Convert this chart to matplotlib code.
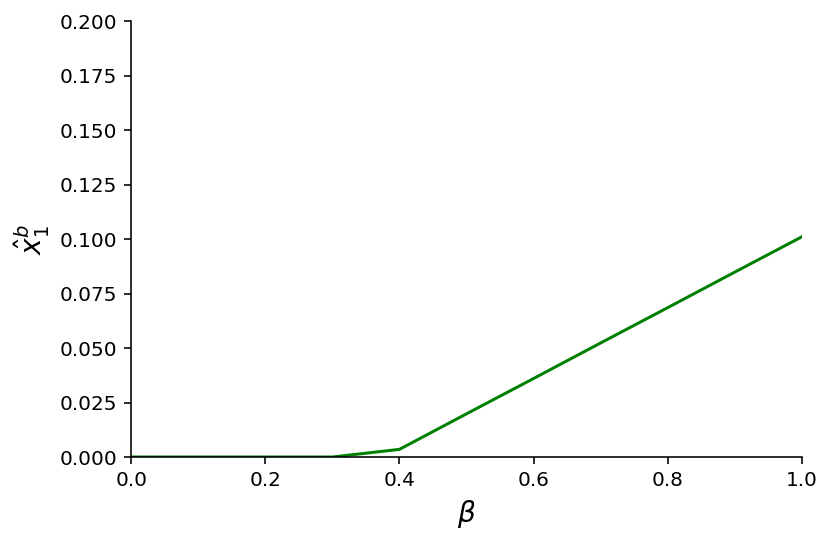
import matplotlib
matplotlib.use('Agg')
import matplotlib.pyplot as plt

# beta values and estimated x1_hat^b
beta = [0.0, 0.1, 0.2, 0.3, 0.4, 0.5, 0.6, 0.7, 0.8, 0.9, 1.0]
x1_hat = [0.0, 0.0, 0.0, 0.0, 0.0035, 0.0198, 0.036, 0.0523, 0.0685, 0.0848, 0.101]

fig = plt.figure(figsize=(830 / 144, 546 / 144), dpi=144)
ax = fig.add_axes([0.158, 0.163, 0.808, 0.7985])

ax.plot(beta, x1_hat, color='green', linewidth=1.5)

ax.set_xlim(0, 1)
ax.set_ylim(0, 0.2)
ax.set_yticks([0, 0.025, 0.05, 0.075, 0.1, 0.125, 0.15, 0.175, 0.2])
ax.set_xlabel(r'$\beta$', fontsize=14)
ax.set_ylabel(r'$\hat{x}_1^b$', fontsize=14)
ax.spines['top'].set_visible(False)
ax.spines['right'].set_visible(False)

fig.savefig('out.png', dpi=144)
